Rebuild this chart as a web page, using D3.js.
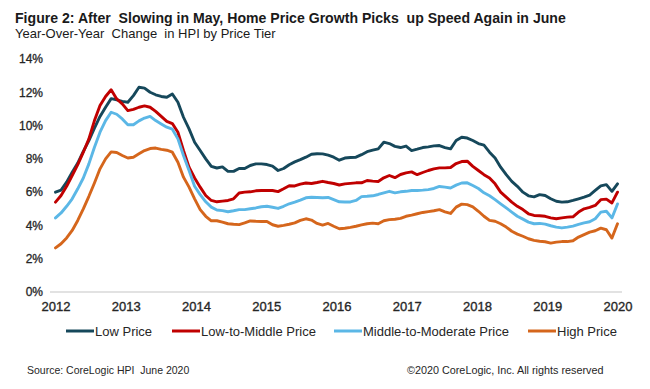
<!DOCTYPE html>
<html>
<head>
<meta charset="utf-8">
<script src="https://cdn.jsdelivr.net/npm/d3@7"></script>
<style>
  html, body { margin: 0; padding: 0; background: #fff; }
  svg { display: block; }
  .pre { white-space: pre; }
</style>
</head>
<body>
<svg id="chart" width="650" height="389"></svg>
<script>
// ---- Data (monthly, Jan 2012 – Jun 2020), YoY % change ----
const yearTicks = [2012, 2013, 2014, 2015, 2016, 2017, 2018, 2019, 2020];
const yTicks = [0, 2, 4, 6, 8, 10, 12, 14];
const seriesNames = ["Low Price", "Low-to-Middle Price", "Middle-to-Moderate Price", "High Price"];

const lowPrice = [6.0, 6.12, 6.6, 7.2, 7.75, 8.45, 9.1, 9.85, 10.55, 11.1, 11.62,
  11.55, 11.45, 11.4, 11.8, 12.3, 12.25, 12.0, 11.85, 11.75, 11.7, 11.9, 11.4, 10.5, 9.8, 9.0, 8.5, 8.0, 7.55, 7.45,
  7.52, 7.25, 7.25, 7.42, 7.42, 7.6, 7.7, 7.7, 7.66, 7.56,
  7.3, 7.42, 7.65, 7.82, 7.95, 8.1, 8.28, 8.31, 8.3, 8.22,
  8.1, 7.92, 8.05, 8.08, 8.1, 8.25, 8.43, 8.52, 8.6, 9.0,
  8.92, 8.75, 8.68, 8.77, 8.5, 8.58, 8.68, 8.72, 8.78, 8.8,
  8.68, 8.6, 9.1, 9.3, 9.25, 9.1, 8.92, 8.82, 8.4, 8.05,
  7.5, 7.05, 6.65, 6.35, 6.0, 5.78, 5.72, 5.85, 5.8, 5.6,
  5.45, 5.4, 5.42, 5.5, 5.6, 5.7, 5.82, 6.1, 6.38, 6.45,
  6.05, 6.5];

const lowToMiddle = [5.4, 5.8, 6.35, 7.0, 7.65, 8.4, 9.2, 10.3, 11.2, 11.75, 12.15,
  11.6, 11.3, 10.9, 10.97, 11.1, 11.18, 11.1, 10.85, 10.55, 10.25, 10.12, 9.6, 8.5, 7.5, 6.85, 6.3, 5.8, 5.5, 5.42,
  5.46, 5.5, 5.6, 5.95, 6.0, 6.02, 6.08, 6.1, 6.1,
  6.1, 6.03, 6.2, 6.38, 6.37, 6.48, 6.55, 6.52, 6.58, 6.65, 6.58, 6.52,
  6.43, 6.5, 6.53, 6.56, 6.56, 6.7, 6.66, 6.64, 6.86, 7.0, 6.87, 7.06, 7.16,
  7.22, 7.05, 7.18, 7.3, 7.4, 7.46, 7.46, 7.48, 7.72, 7.84, 7.86, 7.55,
  7.3, 7.05, 6.85, 6.5, 6.0, 5.7, 5.4, 5.15, 4.95, 4.7, 4.6, 4.58, 4.55, 4.45, 4.4, 4.45, 4.5, 4.52, 4.8, 5.0, 5.08, 5.2, 5.55, 5.58, 5.35, 6.0];

const middleToModerate = [4.45, 4.75, 5.15, 5.6, 6.2, 6.85, 7.7, 8.7, 9.6, 10.3, 10.8,
  10.68, 10.4, 10.05, 10.05, 10.28, 10.45, 10.55, 10.3, 10.1, 9.9, 9.78,
  9.2, 8.2, 7.3, 6.35, 5.85, 5.42, 5.1, 4.93,
  4.89, 4.82, 4.88, 4.95, 4.95, 5.0, 5.05, 5.12, 5.15,
  5.09, 5.02, 5.15, 5.3, 5.4, 5.52, 5.66, 5.69, 5.68, 5.66, 5.68, 5.55,
  5.42, 5.41, 5.41, 5.5, 5.73, 5.75, 5.78, 5.86, 5.96, 6.05, 5.96, 6.02, 6.05,
  6.1, 6.1, 6.12, 6.15, 6.22, 6.34, 6.3, 6.25, 6.42, 6.55, 6.56, 6.4,
  6.22, 5.96, 5.78, 5.55, 5.3, 5.05, 4.8, 4.55, 4.38, 4.2, 4.1, 4.12, 4.08, 3.98, 3.9, 3.85, 3.9, 3.96, 4.06, 4.15, 4.22, 4.4, 4.8, 4.85, 4.45, 5.29];

const highPrice = [2.65, 2.9, 3.25, 3.7, 4.3, 5.0, 5.75, 6.55, 7.4, 8.0, 8.42,
  8.38, 8.2, 8.05, 8.1, 8.3, 8.5, 8.62, 8.65, 8.57, 8.52, 8.4,
  7.8, 6.9, 6.3, 5.6, 4.95, 4.55, 4.28, 4.28,
  4.2, 4.1, 4.07, 4.05, 4.15, 4.27, 4.25, 4.24, 4.24,
  4.04, 3.95, 4.0, 4.07, 4.15, 4.3, 4.4, 4.32, 4.12, 4.02, 4.12, 3.95,
  3.8, 3.83, 3.88, 3.95, 4.03, 4.1, 4.14, 4.1, 4.28, 4.35, 4.37, 4.42, 4.55,
  4.62, 4.7, 4.78, 4.83, 4.88, 4.95, 4.82, 4.72, 5.1, 5.28, 5.25, 5.12,
  4.85, 4.55, 4.3, 4.25, 4.1, 3.9, 3.65, 3.48, 3.35, 3.2, 3.1, 3.05, 3.02, 2.94, 3.0, 3.03, 3.03, 3.08, 3.3, 3.45, 3.6, 3.68, 3.84, 3.74, 3.24, 4.1];

const colors = ["#16485b", "#c00000", "#5bb7e6", "#d5661c"];
const allSeries = [lowPrice, lowToMiddle, middleToModerate, highPrice];

// ---- Layout ----
const svg = d3.select("#chart");
svg.append("rect").attr("width", 650).attr("height", 389).attr("fill", "#fff");

const x = d3.scaleLinear().domain([2012, 2020]).range([55.5, 617.5]);
const y = d3.scaleLinear().domain([0, 14]).range([292, 59]);
const n = lowPrice.length;
const tOf = i => 2012 + i * 8 / (n - 1);

const textColor = "#262626";
const font = "'Liberation Sans', Arial, sans-serif";
const narrow = "'Liberation Sans Narrow', 'Arial Narrow', 'Liberation Sans', sans-serif";

// Title & subtitle
svg.append("text").attr("class", "pre")
  .attr("x", 15).attr("y", 23)
  .attr("font-family", narrow)
  .attr("font-weight", "bold").attr("font-size", 14.1).attr("fill", "#1a1a1a")
  .text("Figure 2: After  Slowing in May, Home Price Growth Picks  up Speed Again in June");
svg.append("text").attr("class", "pre")
  .attr("x", 15).attr("y", 38)
  .attr("font-family", narrow)
  .attr("font-size", 13).attr("fill", "#1a1a1a")
  .text("Year-Over-Year  Change  in HPI by Price Tier");

// zero gridline
svg.append("line")
  .attr("x1", 50).attr("x2", 622).attr("y1", y(0)).attr("y2", y(0))
  .attr("stroke", "#d9d9d9").attr("stroke-width", 1.5);

// Y axis
const yAxis = svg.append("g").attr("transform", "translate(45,0)")
  .call(d3.axisLeft(y).tickValues(yTicks).tickSize(0).tickPadding(2).tickFormat(d => d + "%"));
yAxis.select(".domain").remove();
yAxis.selectAll("text").attr("font-family", font).attr("font-size", 12).attr("fill", textColor)
  .attr("stroke", textColor).attr("stroke-width", 0.3);

// X axis
const xAxis = svg.append("g").attr("transform", `translate(0,${y(0)})`)
  .call(d3.axisBottom(x).tickValues(yearTicks).tickSize(0).tickPadding(10).tickFormat(d3.format("d")));
xAxis.select(".domain").remove();
xAxis.selectAll("text").attr("font-family", font).attr("font-size", 13).attr("fill", textColor)
  .attr("stroke", textColor).attr("stroke-width", 0.35);

// Lines
const line = d3.line().x((d, i) => x(tOf(i))).y(d => y(d));
allSeries.forEach((s, k) => {
  svg.append("path").datum(s)
    .attr("d", line)
    .attr("fill", "none")
    .attr("stroke", colors[k])
    .attr("stroke-width", 2.9)
    .attr("stroke-linejoin", "round")
    .attr("stroke-linecap", "round");
});

// Legend
const legendX = [66, 172, 334, 528];
const legendY = 331;
const lg = svg.append("g");
seriesNames.forEach((name, k) => {
  lg.append("line")
    .attr("x1", legendX[k]).attr("x2", legendX[k] + 28)
    .attr("y1", legendY).attr("y2", legendY)
    .attr("stroke", colors[k]).attr("stroke-width", 3);
  lg.append("text")
    .attr("x", legendX[k] + 29).attr("y", legendY + 4.5)
    .attr("font-family", font).attr("font-size", 13).attr("fill", textColor)
    .text(name);
});

// Footer
svg.append("text").attr("class", "pre").attr("x", 27).attr("y", 373.5)
  .attr("font-family", font).attr("font-size", 10.5).attr("fill", textColor)
  .text("Source: CoreLogic HPI  June 2020");
svg.append("text").attr("x", 407).attr("y", 373.5)
  .attr("font-family", font).attr("font-size", 10.8).attr("fill", textColor)
  .text("©2020 CoreLogic, Inc. All rights reserved");
</script>
</body>
</html>
